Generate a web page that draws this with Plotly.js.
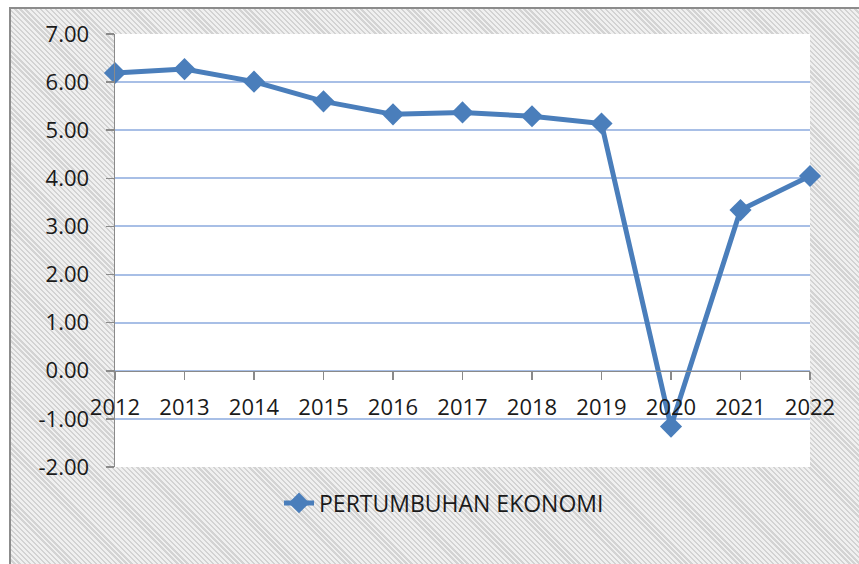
<!DOCTYPE html>
<html>
<head>
<meta charset="utf-8">
<script src="https://cdn.plot.ly/plotly-3.0.1.min.js"></script>
<style>
  html, body { margin:0; padding:0; background:#ffffff; }
  #wrap { position:relative; width:859px; height:564px; overflow:hidden; }
  #frame {
    position:absolute; left:9px; top:7px; right:0; bottom:0;
    border-top:2px solid #8c8c8c; border-left:2px solid #8c8c8c;
    background: repeating-linear-gradient(45deg, #f0f0f0 0px, #f0f0f0 2px, #d3d3d3 2px, #d3d3d3 3.6px);
  }
  #chart { position:absolute; left:0; top:0; width:859px; height:564px; }
</style>
</head>
<body>
<div id="wrap">
  <div id="frame"></div>
  <div id="chart"></div>
</div>
<script>
const years = [2012, 2013, 2014, 2015, 2016, 2017, 2018, 2019, 2020, 2021, 2022];
const growth = [6.19, 6.27, 6.01, 5.60, 5.33, 5.37, 5.29, 5.14, -1.16, 3.34, 4.05];
const seriesName = 'PERTUMBUHAN EKONOMI';
const yTicks = [-2, -1, 0, 1, 2, 3, 4, 5, 6, 7];

const FONT = 'Open Sans, Liberation Sans, Arial, sans-serif';
const trace = {
  x: years, y: growth, name: seriesName,
  type: 'scatter', mode: 'lines+markers',
  line: { color: '#4a7ebb', width: 5 },
  marker: { symbol: 'diamond', size: 17, color: '#4a7ebb' },
  cliponaxis: false,
  showlegend: true
};

const layout = {
  width: 859, height: 564,
  margin: { l: 115, r: 49, t: 34, b: 97 },
  paper_bgcolor: 'rgba(0,0,0,0)',
  plot_bgcolor: '#ffffff',
  font: { family: FONT, size: 22, color: '#1a1a1a' },
  showlegend: true,
  xaxis: {
    range: [2012, 2022],
    tickvals: years,
    ticktext: years.map(String),
    anchor: 'free',
    position: 2/9,
    showline: true, linecolor: '#8a8a8a', linewidth: 1.5,
    ticks: 'outside', ticklen: 8, tickcolor: '#8a8a8a', tickwidth: 1.5,
    ticklabelstandoff: 8,
    showgrid: false, zeroline: false,
    tickfont: { family: FONT, size: 22, color: '#1a1a1a' }
  },
  yaxis: {
    range: [-2, 7],
    tickvals: yTicks,
    ticktext: yTicks.map(v => v.toFixed(2)),
    showline: true, linecolor: '#8a8a8a', linewidth: 1.5,
    ticks: 'outside', ticklen: 8, tickcolor: '#8a8a8a', tickwidth: 1.5,
    ticklabelstandoff: 12,
    showgrid: true, gridcolor: '#a8bfe6', gridwidth: 2,
    zeroline: false,
    tickfont: { family: FONT, size: 22, color: '#1a1a1a' }
  },
  legend: {
    orientation: 'h',
    x: 0.236, xanchor: 'left',
    y: -0.083, yanchor: 'middle',
    bgcolor: 'rgba(0,0,0,0)',
    font: { family: FONT, size: 23, color: '#1a1a1a' }
  }
};

Plotly.newPlot('chart', [trace], layout, { displayModeBar: false, staticPlot: true });
</script>
</body>
</html>
